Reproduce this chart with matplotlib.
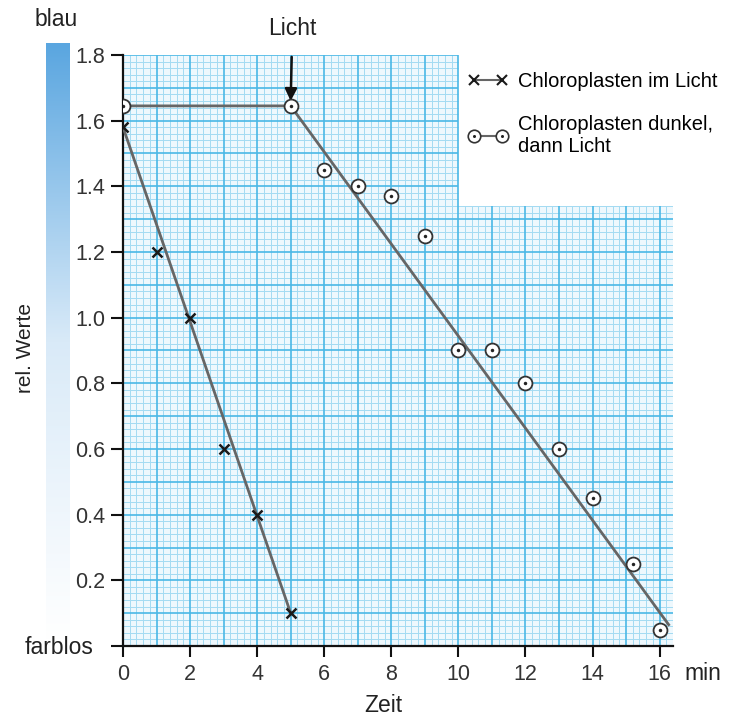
import numpy as np
import matplotlib.pyplot as plt
from matplotlib.lines import Line2D
from matplotlib.colors import LinearSegmentedColormap

plt.rcParams['font.family'] = ['Liberation Sans', 'DejaVu Sans']

# Daten
zeit_licht = [0, 1, 2, 3, 4, 5]
werte_licht = [1.58, 1.2, 1.0, 0.6, 0.4, 0.1]
fit_licht_x = [0, 5]
fit_licht_y = [1.58, 0.1]

zeit_dunkel = [0, 5, 6, 7, 8, 9, 10, 11, 12, 13, 14, 15.2, 16]
werte_dunkel = [1.645, 1.645, 1.45, 1.4, 1.37, 1.25, 0.9, 0.9, 0.8, 0.6, 0.45, 0.25, 0.05]
fit_dunkel_x = [0, 5, 16.27]
fit_dunkel_y = [1.645, 1.645, 0.065]

x_ticks = [0, 2, 4, 6, 8, 10, 12, 14, 16]
y_ticks = [0.2, 0.4, 0.6, 0.8, 1.0, 1.2, 1.4, 1.6, 1.8]

xmax, ymax = 16.4, 1.8
cut_x, cut_y = 10, 1.34

fig = plt.figure(figsize=(7.31, 7.17), dpi=100)
ax = fig.add_axes([123/731, 1-646/717, 550/731, 591/717])
ax.set_xlim(0, xmax)
ax.set_ylim(0, ymax)

# Millimeterpapier
ax.fill([0, xmax, xmax, cut_x, cut_x, 0], [0, 0, cut_y, cut_y, ymax, ymax],
        color='#eef8fd', zorder=0, lw=0)
minor_c, major_c = '#a3dbf2', '#4ab8e6'
for i, x in enumerate(np.round(np.arange(0, xmax + 0.01, 0.2), 2)):
    top = ymax if x <= cut_x else cut_y
    major = i % 5 == 0
    ax.vlines(x, 0, top, color=major_c if major else minor_c,
              lw=1.2 if major else 0.7, zorder=1 if major else 0.5)
for i, y in enumerate(np.round(np.arange(0, ymax + 0.001, 0.02), 3)):
    right = xmax if y <= cut_y + 1e-6 else cut_x
    major = i % 5 == 0
    ax.hlines(y, 0, right, color=major_c if major else minor_c,
              lw=1.2 if major else 0.7, zorder=1 if major else 0.5)

# Kurven
line_c = '#666666'
ax.plot(fit_licht_x, fit_licht_y, color=line_c, lw=2, zorder=3)
ax.plot(zeit_licht, werte_licht, ls='none', marker='x', ms=7.5, mew=1.8,
        color='#1a1a1a', zorder=4)
ax.plot(fit_dunkel_x, fit_dunkel_y, color=line_c, lw=2, zorder=3)
ax.plot(zeit_dunkel, werte_dunkel, ls='none', marker='o', ms=10, mew=1.3,
        mfc='white', mec='#333333', zorder=4)
ax.plot(zeit_dunkel, werte_dunkel, ls='none', marker='o', ms=2.5, mew=0,
        color='#222222', zorder=5)

# Achsen
for s in ['top', 'right']:
    ax.spines[s].set_visible(False)
for s in ['left', 'bottom']:
    ax.spines[s].set_linewidth(1.6)
    ax.spines[s].set_color('#111111')
ax.set_xticks(x_ticks)
ax.set_yticks([0] + y_ticks)
ax.set_yticklabels([''] + ['%.1f' % v for v in y_ticks])
ax.tick_params(axis='both', direction='out', width=1.5, colors='#111111',
               labelsize=15.5, labelcolor='#333333')
ax.tick_params(axis='x', length=8, pad=5)
ax.tick_params(axis='y', length=9, pad=4)

# Pfeil "Licht"
ax.annotate('Licht', xy=(5, 1.66), xytext=(5.05, 1.88),
            ha='center', va='center', fontsize=16.5, color='#222222',
            annotation_clip=False,
            arrowprops=dict(arrowstyle='-|>', color='#111111', lw=1.8,
                            mutation_scale=18, shrinkA=10, shrinkB=0))

# Farbskala links
cax = fig.add_axes([46/731, 1-640/717, 24/731, 597/717])
cmap = LinearSegmentedColormap.from_list('blau', ['#ffffff', '#d9eaf8', '#5aa6e0'])
cax.imshow(np.linspace(0, 1, 256)[:, None], aspect='auto', cmap=cmap, origin='lower')
cax.axis('off')

fig.text(56/731, 1-19/717, 'blau', ha='center', va='center', fontsize=16.5, color='#222222')
fig.text(59/731, 1-648/717, 'farblos', ha='center', va='center', fontsize=16.5, color='#222222')
fig.text(26/731, 1-348/717, 'rel. Werte', ha='center', va='center', rotation=90,
         fontsize=15, color='#222222')
fig.text(383/731, 1-705/717, 'Zeit', ha='center', va='center', fontsize=16.5, color='#222222')
fig.text(703/731, 1-673/717, 'min', ha='center', va='center', fontsize=16.5, color='#222222')

# Legende
h1 = Line2D([], [], color=line_c, lw=1.5, marker='x', ms=6.5, mew=1.5, mec='#1a1a1a')
h2a = Line2D([], [], color=line_c, lw=1.5, marker='o', ms=9, mew=1.2, mfc='white', mec='#333333')
h2b = Line2D([], [], ls='none', marker='o', ms=2.2, mew=0, color='#222222')
fig.legend([h1, (h2a, h2b)], ['Chloroplasten im Licht', 'Chloroplasten dunkel,\ndann Licht'],
           loc='upper left', bbox_to_anchor=(468/731, 1-72/717), frameon=False,
           fontsize=14.5, handlelength=2.0, handletextpad=0.5, labelspacing=1.2,
           numpoints=2, borderaxespad=0, borderpad=0)

fig.savefig('out.png', dpi=100)
